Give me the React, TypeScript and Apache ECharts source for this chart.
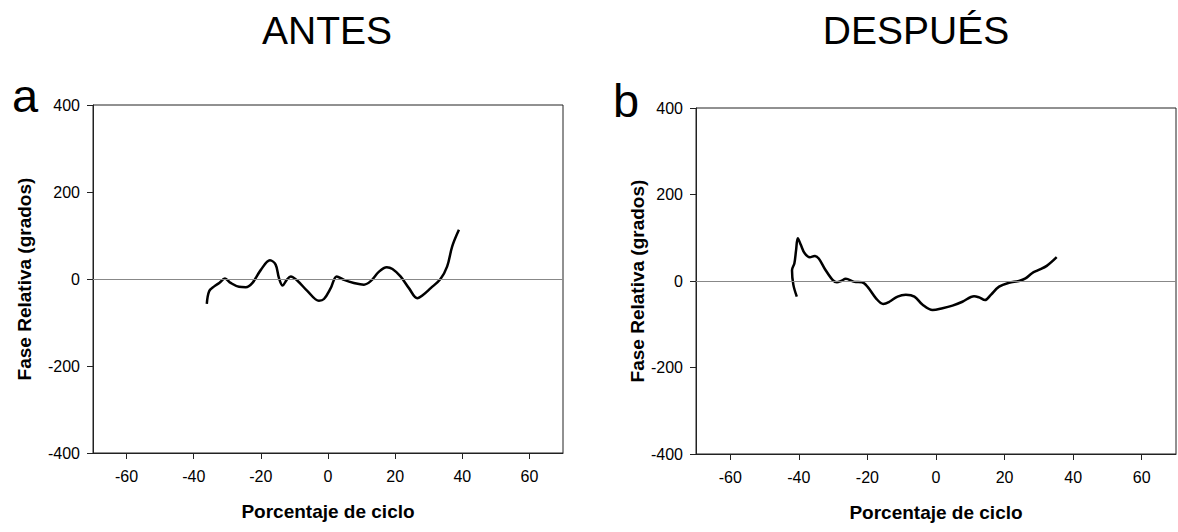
import React, { useEffect, useRef } from "react";
import * as echarts from "echarts";

const FONT = "'Liberation Sans', Arial, Helvetica, sans-serif";

const titles = ["ANTES", "DESPUÉS"];
const panelLetters = ["a", "b"];
const xTicks = [-60, -40, -20, 0, 20, 40, 60];
const xAxisName = "Porcentaje de ciclo";
const yAxisName = "Fase Relativa (grados)";

// Panel a (ANTES): [porcentaje de ciclo, fase relativa]
const antesX = [-36.1, -35.4, -33.9, -32.4, -30.7, -29, -26.5, -24.5, -22.5, -20, -17.3, -15.6, -14.6, -13.5, -12.3, -11.1, -9.1, -6.1, -2.7, -1.2, 0.8, 2.6, 4.8, 7.7, 10.7, 12.7, 15.2, 17.5, 19.2, 21.6, 24.1, 26.6, 28.1, 30.6, 33.5, 35.5, 37, 39];
const antesY = [-57, -28, -17, -9, 1, -9, -18, -19, -9, 21, 43, 33, 2, -15, -2, 6, -4, -28, -50, -46, -21, 6, -2, -9, -13, -5, 17, 27, 23, 6, -21, -44, -38, -21, 0, 29, 75, 113];

// Panel b (DESPUÉS)
const despuesX = [-40.6, -41.6, -42.0, -41.3, -40.8, -40.3, -39.4, -38.3, -36.8, -35.4, -34.2, -32.5, -30.1, -28.9, -27.7, -26.3, -23.8, -21.6, -20, -17.5, -15.4, -13.6, -11.2, -8.8, -6.3, -3.9, -1.0, 1.9, 4.8, 7.7, 11.1, 12.6, 14.3, 16, 18.4, 21.3, 24.2, 26.1, 28, 29.8, 32.3, 35.2];
const despuesY = [-36, -9, 25, 41, 72, 99, 83, 64, 55, 58, 52, 29, 2, -3, 0, 5, -2, -3, -13, -40, -53, -48, -36, -32, -36, -55, -67, -63, -57, -48, -35, -38, -44, -32, -13, -4, 0, 6, 18, 25, 35, 55];

const pairs = (xs: number[], ys: number[]) => xs.map((x, i) => [x, ys[i]]);

const grids = [
  { left: 93, top: 105, width: 470, height: 348 },
  { left: 696, top: 108, width: 480, height: 346 },
];
const yNameGaps = [59, 49];

export default function App() {
  const ref = useRef<HTMLDivElement>(null);
  useEffect(() => {
    if (!ref.current) return;
    const chart = echarts.init(ref.current, null, { renderer: "svg" });
    const axisColor = "#222";
    const xAxes = grids.map((_, i) => ({
      type: "value",
      gridIndex: i,
      min: -70,
      max: 70,
      interval: 10,
      axisLine: { show: true, onZero: false, lineStyle: { color: axisColor, width: 1 } },
      axisTick: { show: true, inside: false, length: 6, customValues: xTicks, lineStyle: { color: axisColor } },
      axisLabel: { show: true, margin: 15, fontSize: 16, color: "#000", fontFamily: FONT, customValues: xTicks },
      splitLine: { show: false },
      name: xAxisName,
      nameLocation: "middle",
      nameGap: 49,
      nameTextStyle: { fontSize: 19, fontWeight: "bold", color: "#000", fontFamily: FONT },
    }));
    const yAxes = grids.map((_, i) => ({
      type: "value",
      gridIndex: i,
      min: -400,
      max: 400,
      interval: 200,
      axisLine: { show: true, onZero: false, lineStyle: { color: axisColor, width: 1 } },
      axisTick: { show: true, inside: false, length: 6, lineStyle: { color: axisColor } },
      axisLabel: { show: true, margin: 13, fontSize: 16, color: "#000", fontFamily: FONT },
      splitLine: { show: false },
      name: yAxisName,
      nameLocation: "middle",
      nameRotate: 90,
      nameGap: yNameGaps[i],
      nameTextStyle: { fontSize: 19, fontWeight: "bold", color: "#000", fontFamily: FONT },
    }));
    const datasets = [pairs(antesX, antesY), pairs(despuesX, despuesY)];
    const series = datasets.map((d, i) => ({
      type: "line",
      xAxisIndex: i,
      yAxisIndex: i,
      data: d,
      smooth: 0.35,
      showSymbol: false,
      symbol: "none",
      lineStyle: { color: "#000", width: 2.5 },
      markLine: {
        silent: true,
        symbol: "none",
        label: { show: false },
        lineStyle: { color: "#888", width: 1.2, type: "solid" },
        data: [{ yAxis: 0 }],
      },
      z: 3,
    }));
    const titleCenters = [327, 916];
    const letterPos = [[12, 95], [613, 100]];
    chart.setOption({
      animation: false,
      backgroundColor: "#fff",
      grid: grids.map((g) => ({ ...g, show: true, borderColor: axisColor, borderWidth: 1, backgroundColor: "transparent", containLabel: false })),
      xAxis: xAxes,
      yAxis: yAxes,
      series,
      graphic: [
        ...titles.map((t, i) => ({
          type: "text",
          x: titleCenters[i],
          y: 30,
          style: { text: t, fontSize: 39, fontFamily: FONT, fill: "#000", textAlign: "center", textVerticalAlign: "middle" },
        })),
        ...panelLetters.map((t, i) => ({
          type: "text",
          x: letterPos[i][0],
          y: letterPos[i][1],
          style: { text: t, fontSize: 47, fontFamily: FONT, fill: "#000", textAlign: "left", textVerticalAlign: "middle" },
        })),
      ],
    });
    return () => chart.dispose();
  }, []);
  return <div ref={ref} style={{ position: "absolute", left: 0, top: 0, width: 1178, height: 532 }} />;
}
